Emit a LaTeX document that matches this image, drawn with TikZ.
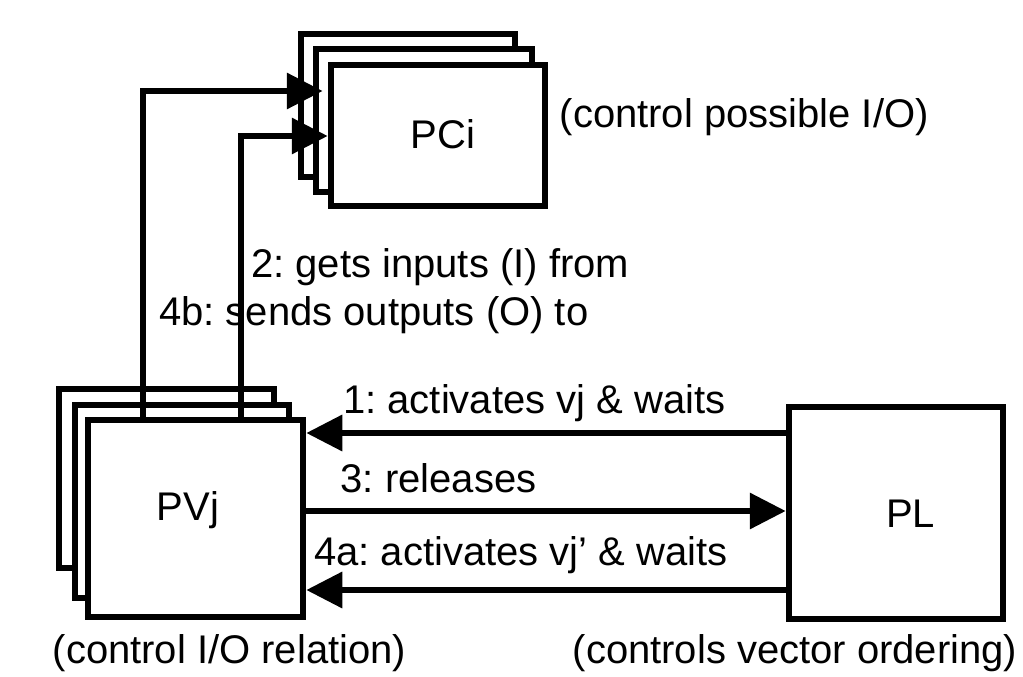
\documentclass[tikz,border=0pt]{standalone}
\usepackage{fontspec}
\setmainfont{Liberation Sans}
\usetikzlibrary{arrows.meta}
\frenchspacing
\begin{document}
\begin{tikzpicture}[x=1pt,y=-1pt,
  box/.style={draw=black,fill=white,line width=6.5pt,inner sep=0pt},
  lbl/.style={inner sep=0pt,font=\fontsize{40}{48}\selectfont\frenchspacing},
  arr/.style={line width=6.5pt,-{Triangle[length=36pt,width=35pt]}}]
\useasboundingbox[fill=white] (0,0) rectangle (1023,677);
% PCi stack
\node[box,minimum width=214pt,minimum height=143pt] (pciC) at (408,105.5) {};
\node[box,minimum width=216pt,minimum height=143pt] (pciB) at (424,120.5) {};
\node[box,minimum width=214pt,minimum height=141pt] (pci) at (438,135.5) {};
% PVj stack
\node[box,minimum width=215pt,minimum height=179pt] (pvjC) at (166.5,478.5) {};
\node[box,minimum width=214pt,minimum height=193pt] (pvjB) at (182,501.5) {};
\node[box,minimum width=215pt,minimum height=197pt] (pvj) at (195.5,518.5) {};
% PL
\node[box,minimum width=214pt,minimum height=212pt] (pl) at (896,513) {};
% box texts
\node[lbl,anchor=base] (tpci) at (443,148) {PCi};
\node[lbl,anchor=base] (tpvj) at (188,520) {PVj};
\node[lbl,anchor=base] (tpl) at (910.5,527) {PL};
% helper coordinates
\coordinate (ya) at (0,433);
\coordinate (yc) at (0,511);
\coordinate (yd) at (0,590);
\coordinate (xb) at (241,0);
\coordinate (yb) at (0,136);
\coordinate (xe) at (143,0);
\coordinate (ye) at (0,91);
% connectors
\draw[arr] (pl.west |- ya) -- (pvj.east |- ya);
\draw[arr] (pvj.east |- yc) -- (pl.west |- yc);
\draw[arr] (pl.west |- yd) -- (pvj.east |- yd);
\draw[arr] (pvj.north -| xb) |- (pci.west |- yb);
\draw[arr,shorten >=5pt] (pvj.north -| xe) |- (pci.west |- ye);
% labels
\node[lbl,anchor=base west] (l2) at (251,277) {2: gets inputs (I) from};
\node[lbl,anchor=base west] (l4b) at (159,325) {4b: sends outputs (O) to};
\node[lbl,anchor=base west] (l1) at (343,413) {1: activates vj \& waits};
\node[lbl,anchor=base west] (l3) at (340.5,492) {3: releases};
\node[lbl,anchor=base west] (l4a) at (314,565) {4a: activates vj’ \& waits};
\node[lbl,anchor=base west] (cpci) at (559.5,127) {(control possible I/O)};
\node[lbl,anchor=base west] (cpvj) at (52.5,663) {(control I/O relation)};
\node[lbl,anchor=base west] (cpl) at (572.5,663) {(controls vector ordering)};
\end{tikzpicture}
\end{document}
